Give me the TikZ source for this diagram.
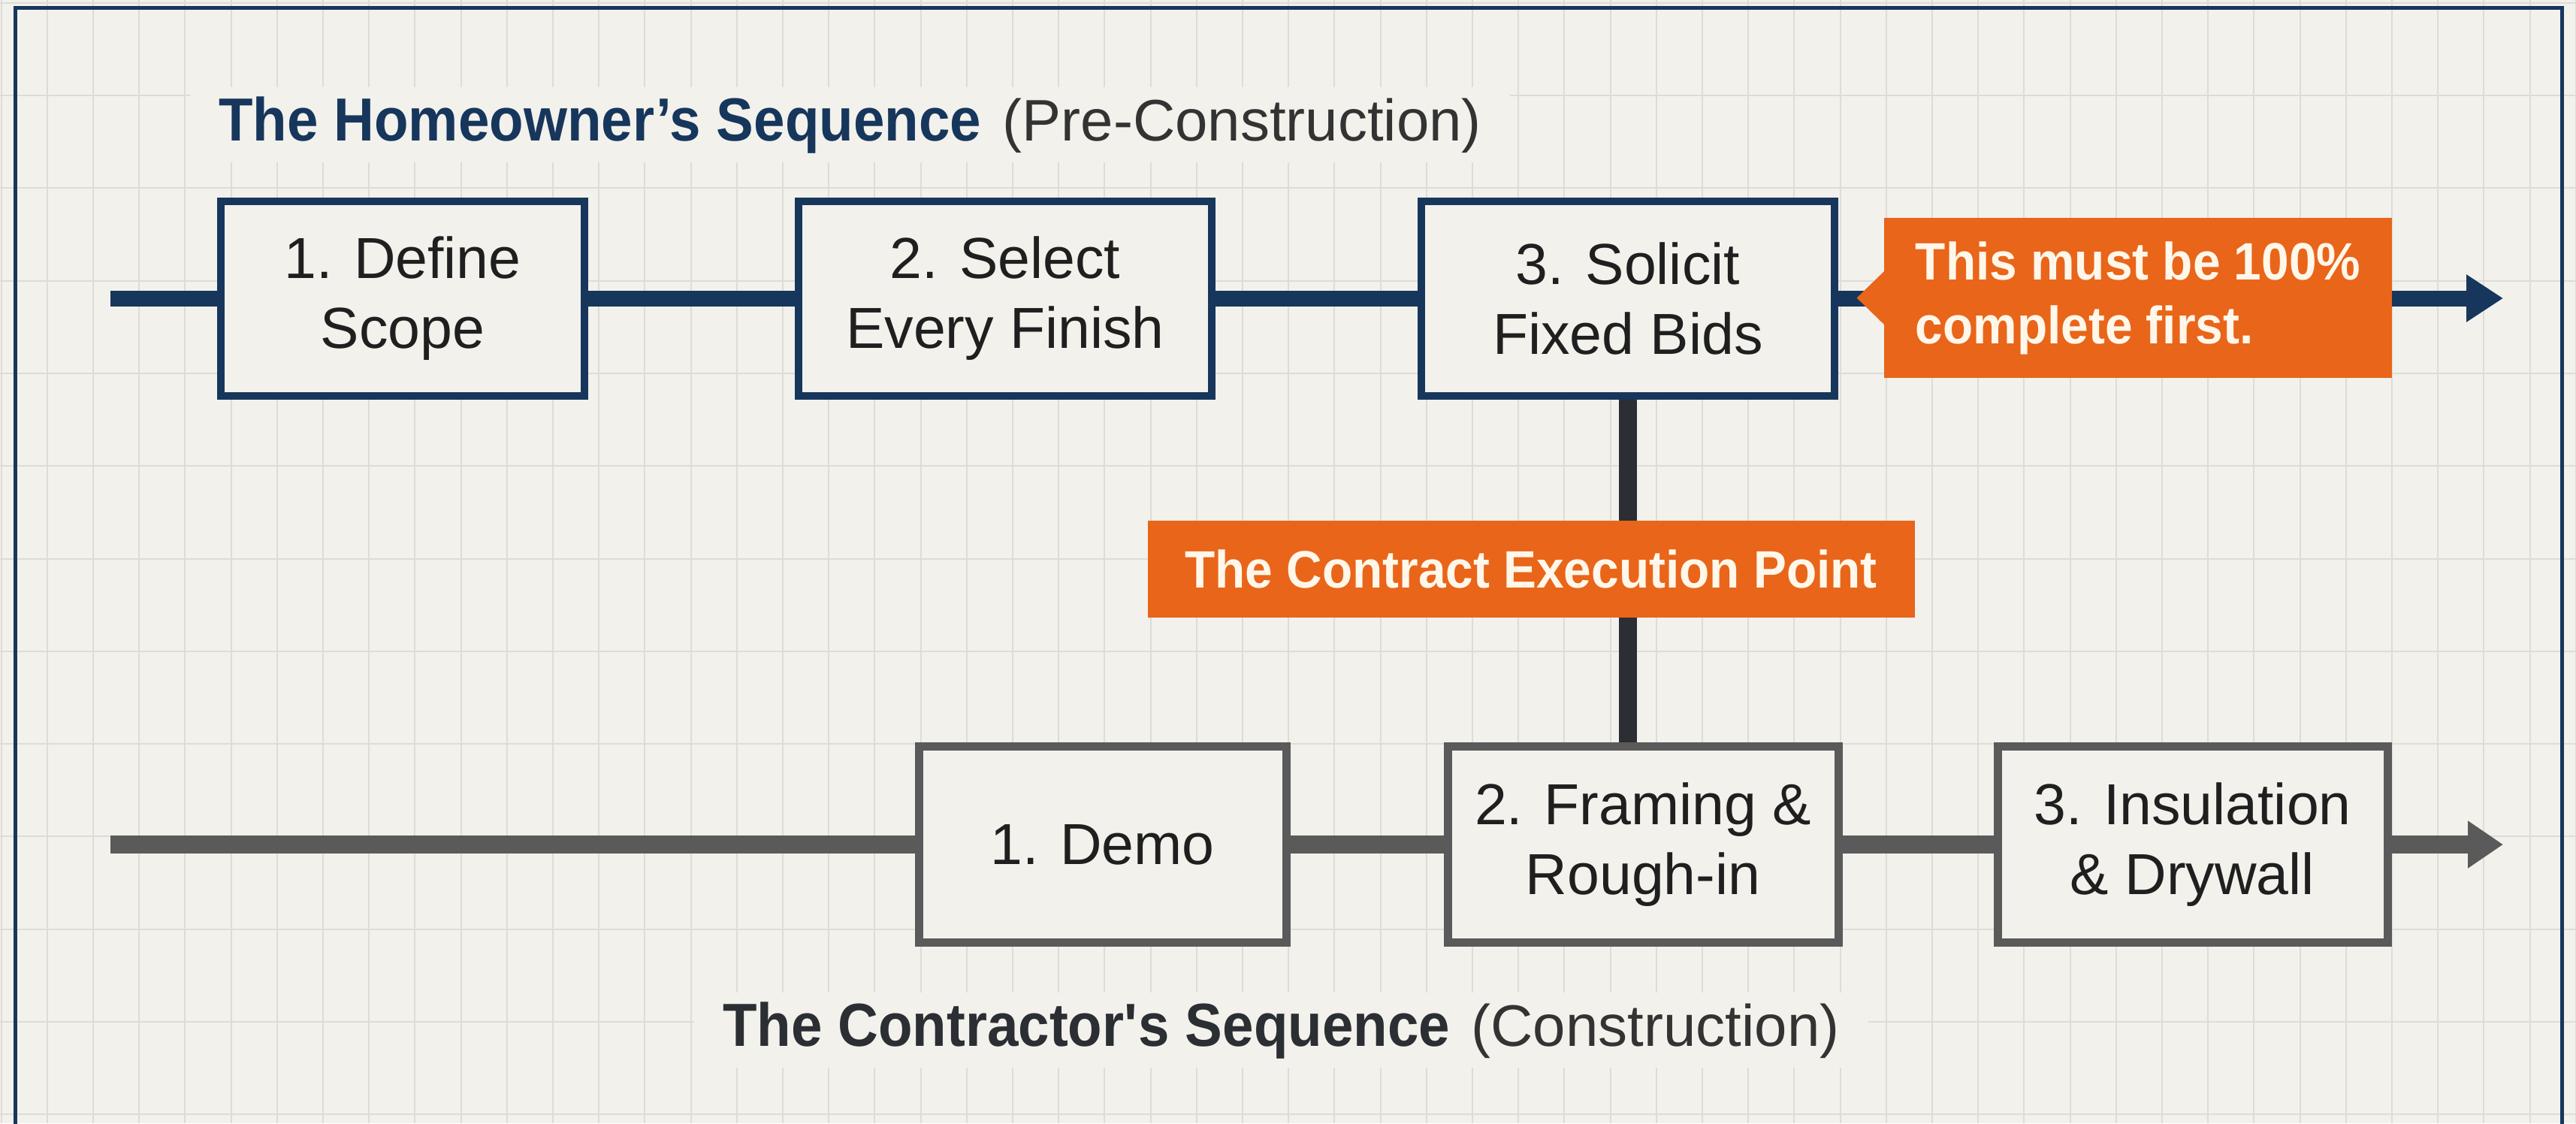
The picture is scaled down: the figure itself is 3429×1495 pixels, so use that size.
\documentclass[tikz,border=0pt]{standalone}
\usepackage{fontspec}
\setmainfont{Liberation Sans}
\newfontfamily\condfont[FakeStretch=0.92]{Liberation Sans}
\newfontfamily\tagfont[FakeStretch=0.94]{Liberation Sans}
\usetikzlibrary{arrows.meta,calc}

\definecolor{paper}{HTML}{F2F1EC}
\definecolor{gridc}{HTML}{DDDCD6}
\definecolor{hnavy}{HTML}{17365C}
\definecolor{slate}{HTML}{5A5A5A}
\definecolor{ink}{HTML}{1F1F1F}
\definecolor{charcoal}{HTML}{2B2E32}
\definecolor{headgray}{HTML}{333333}
\definecolor{flame}{HTML}{E9651A}
\definecolor{cream}{HTML}{FFF7EA}

\tikzset{
  gridline/.style={draw=gridc, line width=1pt},
  hstep/.style={draw=hnavy, line width=5pt, fill=paper, text=ink, align=center,
    inner sep=0pt, font=\fontsize{38.5}{46.5}\selectfont, minimum height=129.5pt},
  cstep/.style={hstep, draw=slate, line width=5.5pt, minimum height=130.5pt},
  tag/.style={fill=flame, text=cream, inner sep=0pt,
    font=\tagfont\fontsize{35}{42.5}\selectfont\bfseries},
  heading/.style={fill=paper, inner xsep=19pt, inner ysep=6pt, anchor=base west,
    font=\condfont\fontsize{40.5}{48}\selectfont},
  hline/.style={draw=hnavy, line width=10.5pt},
  cline/.style={draw=slate, line width=12pt},
  vline/.style={draw=charcoal, line width=12pt},
  arrowend/.style={-{Triangle[length=24.5pt,width=30pt]}},
}

\begin{document}
\begin{tikzpicture}[x=0.5pt, y=-0.5pt]
\useasboundingbox (0,0) rectangle (3429,1495);
\fill[paper] (0,0) rectangle (3429,1495);

% background grid
\foreach \i in {0,...,56}
  \draw[gridline] ({1.6+61.2*\i},0) -- ++(0,1495);
\foreach \k in {0,...,12}
  \draw[gridline] (0,{3.7+123.3*\k}) -- ++(3429,0);

% outer frame
\draw[hnavy, line width=2.5pt] (20,1600) -- (20,10.5) -- (3410,10.5) -- (3410,1600);

% headings
\node[heading] (hhead) at (253,187)
  {{\bfseries\color{hnavy}The Homeowner’s Sequence}\hspace{4pt} {\normalfont\fontsize{39}{48}\selectfont\color{headgray}(Pre-Construction)}};
\node[heading] (chead) at (924,1392)
  {{\bfseries\color{charcoal}The Contractor\textquotesingle s Sequence}\hspace{4pt} {\normalfont\fontsize{39}{48}\selectfont\color{headgray}(Construction)}};

% homeowner steps
\node[hstep, minimum width=242pt] (h1) at (536,397) {1. Define\\Scope};
\node[hstep, minimum width=275pt] (h2) at (1338,397) {2. Select\\Every Finish};
\node[hstep, minimum width=275pt] (h3) at (2167,397) {3. Solicit\\Fixed Bids};

% contractor steps
\node[cstep, minimum width=244.5pt] (c1) at (1467.5,1124) {1. Demo};
\node[cstep, minimum width=260pt] (c2) at (2187,1124) {2. Framing \&\\Rough-in};
\node[cstep, minimum width=259.5pt] (c3) at (2918.5,1124) {3. Insulation\\\& Drywall};

% timeline ends
\coordinate (hstart) at (147,397);
\coordinate (hend) at (3332,397);
\coordinate (cstart) at (147,1124);
\coordinate (cend) at (3332,1124);

% homeowner timeline
\draw[hline] (hstart) -- (h1.west);
\draw[hline] (h1.east) -- (h2.west);
\draw[hline] (h2.east) -- (h3.west);
\draw[hline, arrowend] (h3.east) -- (hend);

% contractor timeline
\draw[cline] (cstart) -- (c1.west);
\draw[cline] (c1.east) -- (c2.west);
\draw[cline] (c2.east) -- (c3.west);
\draw[cline, -{Triangle[length=23.5pt,width=30pt]}] (c3.east) -- (cend);

% link between the two sequences
\draw[vline] (h3.south) -- (h3.south |- c2.north);

% labels
\node[tag, minimum width=510.5pt, minimum height=64.5pt] (cep) at (2038,757.5)
  {The Contract Execution Point};
\node[tag, align=left, minimum width=338pt, minimum height=106.5pt]
  (note) at (2846,396.5) {This must be 100\%\\complete first.};
\fill[flame] ($(note.west)+(1,-36)$) -- ($(note.west)+(-36,0)$) -- ($(note.west)+(1,36)$) -- cycle;
\end{tikzpicture}
\end{document}
